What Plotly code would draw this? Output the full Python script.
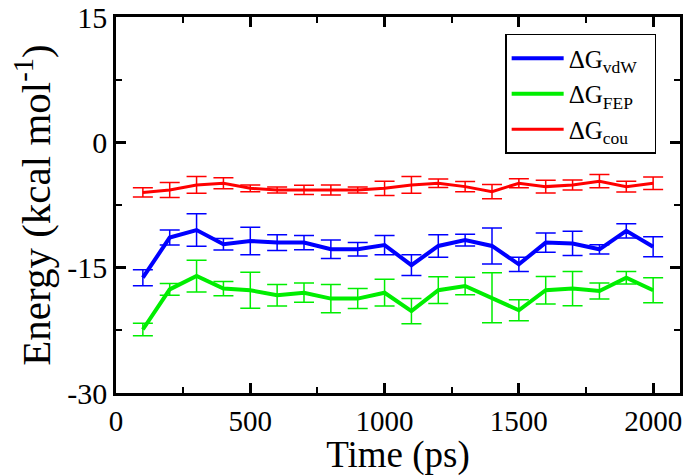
import plotly.graph_objects as go

time_ps = [100, 200, 300, 400, 500, 600, 700, 800, 900, 1000,
           1100, 1200, 1300, 1400, 1500, 1600, 1700, 1800, 1900, 2000]

dg_vdw = [-16.2, -11.4, -10.5, -12.2, -11.8, -12.0, -12.0, -12.8, -12.8, -12.3,
          -14.7, -12.4, -11.7, -12.4, -14.6, -12.0, -12.1, -12.8, -10.6, -12.5]
dg_vdw_err = [0.95, 0.9, 1.95, 0.7, 1.65, 0.95, 0.85, 1.1, 0.8, 1.15,
              1.25, 1.35, 0.7, 2.15, 0.85, 1.15, 1.45, 0.55, 0.85, 1.2]

dg_fep = [-22.4, -17.6, -16.0, -17.5, -17.7, -18.3, -18.0, -18.7, -18.7, -18.0,
          -20.2, -17.7, -17.2, -18.6, -20.1, -17.7, -17.5, -17.8, -16.2, -17.7]
dg_fep_err = [0.75, 0.7, 1.9, 0.85, 2.15, 1.3, 1.15, 1.7, 1.2, 1.6,
              1.5, 1.6, 1.05, 3.0, 1.25, 1.65, 2.05, 0.95, 0.75, 1.5]

dg_cou = [-6.0, -5.7, -5.1, -4.9, -5.5, -5.7, -5.7, -5.7, -5.7, -5.5,
          -5.1, -4.9, -5.3, -5.9, -4.9, -5.3, -5.1, -4.65, -5.3, -4.9]
dg_cou_err = [0.55, 0.9, 1.0, 0.65, 0.4, 0.35, 0.55, 0.6, 0.35, 0.85,
              1.0, 0.5, 0.6, 0.85, 0.55, 0.75, 0.6, 0.8, 0.65, 0.75]

series_names = ["ΔG<sub>vdW</sub>\u00a0\u00a0", "ΔG<sub>FEP</sub>\u00a0\u00a0", "ΔG<sub>cou</sub>\u00a0\u00a0"]
series_colors = ["#0000ff", "#00ee00", "#ff0000"]

x_ticks = [0, 500, 1000, 1500, 2000]
y_ticks = [-30, -15, 0, 15]

FONT = "Liberation Serif, Times New Roman, Times, DejaVu Serif, serif"

fig = go.Figure()
for name, vals, errs, col, lw in [
    (series_names[0], dg_vdw, dg_vdw_err, series_colors[0], 4),
    (series_names[1], dg_fep, dg_fep_err, series_colors[1], 4),
    (series_names[2], dg_cou, dg_cou_err, series_colors[2], 3),
]:
    fig.add_trace(go.Scatter(
        x=time_ps, y=vals, mode="lines", name=name,
        line=dict(color=col, width=lw),
        error_y=dict(type="data", array=errs, visible=True,
                     color=col, thickness=1.5, width=10),
    ))

axis_common = dict(
    showline=True, linecolor="black", linewidth=2.5, mirror="allticks",
    ticks="inside", ticklen=10, tickwidth=2.5, tickcolor="black",
    showgrid=False, zeroline=False, automargin=False,
    minor=dict(ticks="inside", ticklen=6, tickwidth=2, tickcolor="black", showgrid=False),
)

fig.update_xaxes(range=[0, 2100], tickvals=x_ticks, ticktext=[str(v) for v in x_ticks],
                 minor_dtick=250, minor_tick0=0,
                 tickfont=dict(family=FONT, size=29, color="black"),
                 title=dict(text="Time (ps)", font=dict(family=FONT, size=37, color="black"), standoff=0),
                 **axis_common)
fig.update_yaxes(range=[-30, 15], tickvals=y_ticks, ticktext=[str(v) for v in y_ticks],
                 minor_dtick=7.5, minor_tick0=0,
                 tickfont=dict(family=FONT, size=30, color="black"),
                 title=dict(text="Energy (kcal mol<sup>-1</sup>)", font=dict(family=FONT, size=41, color="black"), standoff=4),
                 **axis_common)

fig.update_layout(
    width=688, height=476,
    margin=dict(l=116, r=8, t=17, b=83, autoexpand=False),
    paper_bgcolor="white", plot_bgcolor="white",
    font=dict(family=FONT, color="black"),
    legend=dict(x=0.69, y=0.955, xanchor="left", yanchor="top",
                bgcolor="white", bordercolor="black", borderwidth=1.5,
                font=dict(family=FONT, size=25, color="black"),
                itemwidth=52),
    showlegend=True,
)

fig.write_html("out.html", config={"displayModeBar": False},
               post_script="document.body.style.margin='0';")
